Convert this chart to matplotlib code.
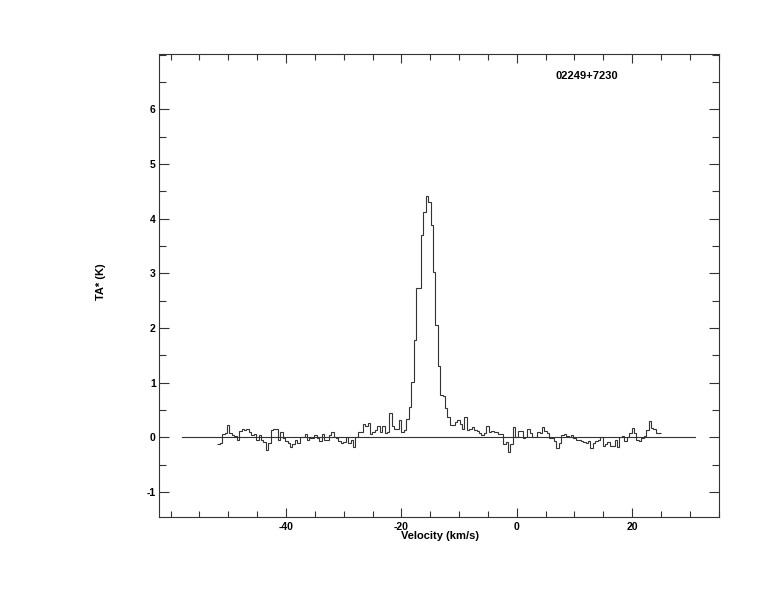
import numpy as np
import matplotlib
matplotlib.use('Agg')
import matplotlib.pyplot as plt
from matplotlib.ticker import MultipleLocator, FixedLocator

source_name = "02249+7230"
x_label = "Velocity (km/s)"
y_label = "TA* (K)"

v_start = -51.9      # km/s, left edge of first channel
chan_width = 0.42    # km/s
ta = [
    -0.12, -0.11, 0.06, 0.07, 0.22, 0.07, 0.05, 0.02, -0.05, 0.11,
    0.16, 0.13, 0.16, 0.09, 0.05, 0.06, -0.04, 0.05, -0.05, -0.09,
    -0.23, -0.10, 0.14, 0.15, 0.15, -0.04, 0.10, -0.02, -0.07, -0.10,
    -0.18, -0.12, -0.04, -0.10, 0.00, 0.00, 0.06, -0.05, -0.01, -0.01,
    0.04, -0.02, -0.07, 0.06, -0.05, -0.05, 0.04, 0.09, 0.00, -0.02,
    -0.06, -0.11, -0.09, 0.00, -0.11, -0.04, -0.18, 0.00, 0.10, 0.10,
    0.24, 0.21, 0.27, 0.06, 0.09, 0.13, 0.20, 0.09, 0.21, 0.07,
    0.10, 0.44, 0.21, 0.16, 0.16, 0.31, 0.09, 0.13, 0.33, 0.56,
    1.02, 1.78, 2.74, 2.74, 3.70, 4.12, 4.41, 4.30, 3.88, 3.03,
    2.05, 1.30, 0.77, 0.75, 0.53, 0.37, 0.22, 0.23, 0.28, 0.32,
    0.24, 0.16, 0.38, 0.13, 0.16, 0.18, 0.14, 0.11, 0.08, 0.05,
    0.07, 0.20, 0.10, 0.12, 0.10, 0.09, 0.06, 0.06, -0.12, -0.08,
    -0.26, -0.12, 0.18, 0.00, 0.12, 0.12, -0.01, 0.00, 0.16, 0.07,
    0.00, 0.00, 0.10, 0.07, 0.18, 0.12, 0.07, -0.01, -0.02, -0.07,
    -0.20, -0.11, 0.04, 0.06, 0.03, 0.00, 0.05, -0.02, -0.04, -0.04,
    -0.06, -0.09, -0.10, -0.06, -0.20, -0.10, -0.06, -0.05, 0.00, -0.16,
    -0.12, -0.09, -0.15, -0.15, -0.04, -0.17, 0.00, 0.02, -0.06, 0.00,
    0.07, 0.17, 0.07, -0.05, -0.07, -0.02, 0.02, 0.13, 0.29, 0.17,
    0.16, 0.07, 0.07,
]
baseline_v = [-58.0, 31.0]
baseline_t = [0.0, 0.0]

x_major_ticks = [-40, -20, 0, 20]
y_major_ticks = [-1, 0, 1, 2, 3, 4, 5, 6]

plt.rcParams['font.family'] = ['Liberation Sans', 'DejaVu Sans']
plt.rcParams['font.weight'] = 'bold'
plt.rcParams['axes.unicode_minus'] = False

W, H = 774, 612
fig = plt.figure(figsize=(W / 100, H / 100), dpi=100)
left, right, top, bottom = 159.3, 719.3, 54.3, 517.3
ax = fig.add_axes([left / W, 1 - bottom / H, (right - left) / W, (bottom - top) / H])

line_color = '#333333'
edges = v_start + chan_width * np.arange(len(ta) + 1)
ax.stairs(ta, edges, baseline=None, color=line_color, lw=0.8)
ax.plot(baseline_v, baseline_t, color=line_color, lw=0.8)

ax.set_xlim(-61.97, 35.13)
ax.set_ylim(-1.463, 7.006)

ax.xaxis.set_major_locator(FixedLocator(x_major_ticks))
ax.xaxis.set_minor_locator(MultipleLocator(5))
ax.yaxis.set_major_locator(FixedLocator(y_major_ticks))
ax.yaxis.set_minor_locator(MultipleLocator(0.5))

ax.tick_params(which='both', direction='in', top=True, right=True,
               color=line_color, width=0.8, labelsize=7.5)
ax.tick_params(axis='x', which='major', length=6.8, pad=3.2)
ax.tick_params(axis='x', which='minor', length=4.5)
ax.tick_params(axis='y', which='major', length=7.5, pad=2.5)
ax.tick_params(axis='y', which='minor', length=5.0)
for lab in ax.get_xticklabels() + ax.get_yticklabels():
    lab.set_fontweight('bold')

for sp in ax.spines.values():
    sp.set_color(line_color)
    sp.set_linewidth(0.8)

fig.text(440 / W, 1 - 531 / H, x_label, ha='center', va='top',
         fontsize=8, fontweight='bold')
fig.text(101 / W, 1 - 282 / H, y_label, ha='center', va='center',
         rotation=90, fontsize=8, fontweight='bold')
fig.text(587 / W, 1 - 76 / H, source_name, ha='center', va='center',
         fontsize=8, fontweight='bold')

fig.savefig('out.png', dpi=100)
